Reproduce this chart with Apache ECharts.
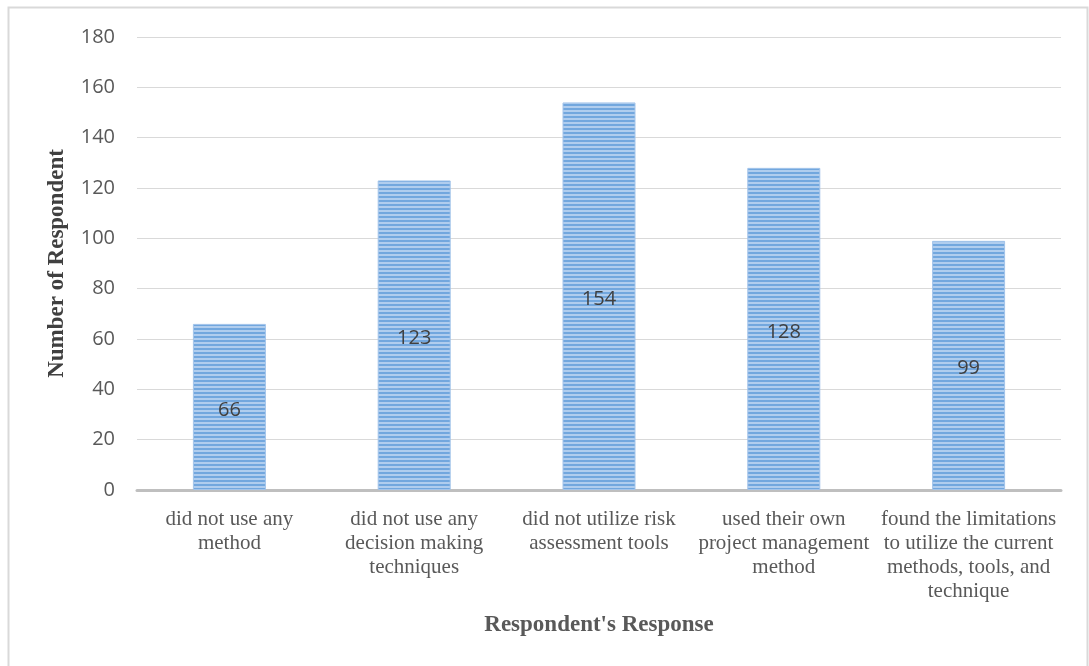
<!DOCTYPE html>
<html>
<head>
<meta charset="utf-8">
<script src="https://cdn.jsdelivr.net/npm/echarts@6/dist/echarts.min.js"></script>
<style>
  html, body { margin: 0; padding: 0; background: #fff; }
  #chart { width: 1089px; height: 666px; }
</style>
</head>
<body>
<div id="chart"></div>
<script>
// Survey responses
var categories = [
  'did not use any\nmethod',
  'did not use any\ndecision making\ntechniques',
  'did not utilize risk\nassessment tools',
  'used their own\nproject management\nmethod',
  'found the limitations\nto utilize the current\nmethods, tools, and\ntechnique'
];
var respondents = [66, 123, 154, 128, 99];
var yTicks = { min: 0, max: 180, step: 20 };

// Horizontal striped fill for the bars
function stripePattern() {
  var c = document.createElement('canvas');
  c.width = 4; c.height = 4;
  var g = c.getContext('2d');
  g.fillStyle = '#72a7de';
  g.fillRect(0, 0, 4, 2);
  g.fillStyle = '#b0cdee';
  g.fillRect(0, 2, 4, 2);
  return c;
}

var chart = echarts.init(document.getElementById('chart'), null, { renderer: 'canvas' });
chart.setOption({
  animation: false,
  backgroundColor: '#ffffff',
  graphic: [{
    type: 'rect',
    shape: { x: 8.5, y: 7.5, width: 1079, height: 680 },
    style: { fill: 'none', stroke: '#d9d9d9', lineWidth: 2 },
    silent: true
  }],
  grid: { left: 137, right: 28, top: 37, bottom: 176, containLabel: false },
  xAxis: {
    type: 'category',
    data: categories,
    axisLine: { show: true, lineStyle: { color: '#bfbfbf', width: 3 } },
    axisTick: { show: false },
    axisLabel: {
      interval: 0,
      margin: 17,
      fontFamily: 'Liberation Serif',
      fontSize: 21,
      lineHeight: 24,
      color: '#595959'
    },
    name: "Respondent's Response",
    nameLocation: 'middle',
    nameGap: 124,
    nameTextStyle: {
      fontFamily: 'Liberation Serif',
      fontWeight: 'bold',
      fontSize: 23,
      color: '#595959'
    }
  },
  yAxis: {
    type: 'value',
    min: yTicks.min,
    max: yTicks.max,
    interval: yTicks.step,
    axisLine: { show: false },
    axisTick: { show: false },
    splitLine: { lineStyle: { color: '#d9d9d9', width: 1 } },
    axisLabel: {
      margin: 22,
      fontFamily: 'Open Sans',
      fontSize: 20,
      color: '#595959'
    },
    name: 'Number of Respondent',
    nameLocation: 'middle',
    nameGap: 68,
    nameTextStyle: {
      fontFamily: 'Liberation Serif',
      fontWeight: 'bold',
      fontSize: 23,
      color: '#404040'
    }
  },
  series: [{
    type: 'bar',
    data: respondents,
    barWidth: 73,
    itemStyle: {
      color: { image: stripePattern(), repeat: 'repeat' },
      borderColor: '#a3c4ea',
      borderWidth: 1
    },
    label: {
      show: true,
      position: 'inside',
      offset: [0, 3],
      fontFamily: 'Open Sans',
      fontSize: 20,
      color: '#404040'
    }
  }]
});
</script>
</body>
</html>
